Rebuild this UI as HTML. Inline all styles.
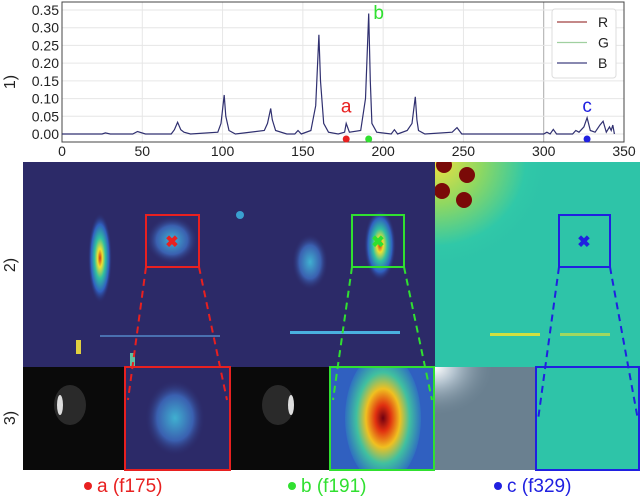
<!DOCTYPE html>
<html><head><meta charset="utf-8"><style>
body{margin:0;background:#fff;width:640px;height:500px;overflow:hidden;font-family:"Liberation Sans",sans-serif}
svg{display:block}
</style></head><body>
<svg width="640" height="500" viewBox="0 0 640 500">
<defs>
<radialGradient id="hotA" cx="0.5" cy="0.5" r="0.5"><stop offset="0" stop-color="#d03010"/><stop offset="0.2" stop-color="#f0e030"/><stop offset="0.45" stop-color="#30c0a0"/><stop offset="0.75" stop-color="#3060c0"/><stop offset="1" stop-color="#2a2a6a" stop-opacity="0"/></radialGradient>
<radialGradient id="blueSpot" cx="0.5" cy="0.5" r="0.5"><stop offset="0" stop-color="#40b0d0"/><stop offset="0.6" stop-color="#3a60b0"/><stop offset="1" stop-color="#2c2a6a" stop-opacity="0"/></radialGradient>
<radialGradient id="tealGlow" cx="0" cy="0" r="1"><stop offset="0" stop-color="#f0e040"/><stop offset="0.35" stop-color="#90d860"/><stop offset="0.7" stop-color="#30c8a8"/><stop offset="1" stop-color="#2ec0a8" stop-opacity="0"/></radialGradient>
<radialGradient id="grayGlow" cx="0" cy="0" r="1"><stop offset="0" stop-color="#ffffff"/><stop offset="0.35" stop-color="#b0c0cc"/><stop offset="1" stop-color="#6a8090" stop-opacity="0"/></radialGradient>
<radialGradient id="hotB" cx="0.5" cy="0.5" r="0.5"><stop offset="0" stop-color="#700010"/><stop offset="0.2" stop-color="#e03010"/><stop offset="0.45" stop-color="#f0c020"/><stop offset="0.7" stop-color="#40c0a0"/><stop offset="1" stop-color="#3070c0"/></radialGradient>
<clipPath id="clipB"><rect x="330" y="367" width="105" height="103"/></clipPath>
<clipPath id="clipA"><rect x="125" y="367" width="105" height="103"/></clipPath>
<clipPath id="clipC"><rect x="435" y="162" width="205" height="205"/></clipPath>
</defs>

<g id="chart"></g>

<g>
<rect x="23" y="162" width="412" height="205" fill="#2c2a68"/>
<ellipse cx="100" cy="258" rx="12" ry="45" fill="url(#hotA)"/>
<ellipse cx="172" cy="240" rx="26" ry="24" fill="url(#blueSpot)"/>
<circle cx="240" cy="215" r="4" fill="#3aa0d0"/>
<ellipse cx="310" cy="262" rx="18" ry="28" fill="url(#blueSpot)"/>
<ellipse cx="380" cy="245" rx="16" ry="36" fill="url(#hotA)"/>
<rect x="290" y="331" width="110" height="3" fill="#4ab0e0"/>
<rect x="100" y="335" width="120" height="2" fill="#4a70b0"/>
<rect x="76" y="340" width="5" height="14" fill="#e0d040"/>
<rect x="130" y="353" width="5" height="14" fill="#60c0a0"/>
<rect x="435" y="162" width="205" height="205" fill="#2ec4a8"/>
<g clip-path="url(#clipC)">
<rect x="435" y="162" width="130" height="120" fill="url(#tealGlow)"/>
<circle cx="444" cy="165" r="8" fill="#7a0a08"/><circle cx="467" cy="175" r="8" fill="#7a0a08"/><circle cx="442" cy="191" r="8" fill="#7a0a08"/><circle cx="464" cy="200" r="8" fill="#7a0a08"/>
</g>
<rect x="490" y="333" width="50" height="3" fill="#d0e040"/><rect x="560" y="333" width="50" height="3" fill="#a0d860"/>
<rect x="146" y="215" width="53" height="52" fill="none" stroke="#e82020" stroke-width="2"/>
<text x="172" y="247" font-size="16" font-weight="bold" fill="#e82020" text-anchor="middle">✖</text>
<rect x="352" y="215" width="52" height="52" fill="none" stroke="#30e030" stroke-width="2"/>
<text x="378" y="247" font-size="16" font-weight="bold" fill="#30e030" text-anchor="middle">✖</text>
<rect x="559" y="215" width="51" height="52" fill="none" stroke="#2020e0" stroke-width="2"/>
<text x="584" y="247" font-size="16" font-weight="bold" fill="#2020e0" text-anchor="middle">✖</text>
<text transform="translate(15,265) rotate(-90)" font-size="16" text-anchor="middle" fill="#222">2)</text>
</g>

<g>
<rect x="23" y="367" width="102" height="103" fill="#0a0a0a"/>
<ellipse cx="70" cy="405" rx="16" ry="20" fill="#2a2a2a"/><ellipse cx="60" cy="405" rx="3" ry="10" fill="#ddd"/>
<rect x="125" y="367" width="105" height="103" fill="#2c2a68"/>
<ellipse cx="175" cy="418" rx="30" ry="38" fill="url(#blueSpot)" clip-path="url(#clipA)"/>
<rect x="230" y="367" width="100" height="103" fill="#0a0a0a"/>
<ellipse cx="278" cy="405" rx="16" ry="20" fill="#2a2a2a"/><ellipse cx="291" cy="405" rx="3" ry="10" fill="#ddd"/>
<rect x="330" y="367" width="105" height="103" fill="#3060c0"/>
<ellipse cx="383" cy="418" rx="38" ry="65" fill="url(#hotB)" clip-path="url(#clipB)"/>
<rect x="435" y="367" width="100" height="103" fill="#6a8090"/>
<rect x="435" y="367" width="60" height="50" fill="url(#grayGlow)"/>
<rect x="535" y="367" width="105" height="103" fill="#2ec4a8"/>
<rect x="125" y="367" width="105" height="103" fill="none" stroke="#e82020" stroke-width="2"/>
<rect x="330" y="367" width="104" height="103" fill="none" stroke="#30e030" stroke-width="2"/>
<rect x="536" y="367" width="103" height="103" fill="none" stroke="#2020e0" stroke-width="2"/>
<text transform="translate(15,418) rotate(-90)" font-size="16" text-anchor="middle" fill="#222">3)</text>
</g>

<g stroke-width="2" stroke-dasharray="7,5" fill="none">
<path d="M146 267 L128 400 M199 267 L227 400" stroke="#e82020"/>
<path d="M352 267 L333 400 M404 267 L432 400" stroke="#30e030"/>
<path d="M559 267 L538 420 M610 267 L638 420" stroke="#2020e0"/>
</g>

<g font-size="19">
<circle cx="88" cy="486" r="4" fill="#e82020"/><text x="97" y="492" fill="#e82020">a (f175)</text>
<circle cx="292" cy="486" r="4" fill="#30e030"/><text x="301" y="492" fill="#30e030">b (f191)</text>
<circle cx="498" cy="486" r="4" fill="#2020e0"/><text x="507" y="492" fill="#2020e0">c (f329)</text>
</g>
</svg>
<script>
const frames=[0,25,27,30,44,47,52,68,70,72,74,76,80,97,99,101,102,104,108,126,128,130,131,133,140,145,147,149,155,158,160,161,163,166,172,176,177,179,186,189,191,192,193,196,205,207,209,215,218,220,221,222,226,243,246,249,300,302,304,306,308,318,320,322,325,327,329,332,335,337,339,341,342,343,344];
const values=[0,0,0.003,0,0,0.007,0,0,0.012,0.033,0.012,0.005,0,0.005,0.03,0.11,0.05,0.01,0,0.01,0.03,0.072,0.04,0.01,0,0,0.01,0,0.01,0.08,0.28,0.15,0.03,0.005,0,0.005,0.03,0.005,0.01,0.1,0.34,0.15,0.03,0.005,0,0.012,0,0.01,0.03,0.105,0.04,0.01,0,0.005,0.018,0,0,0.005,0,0.013,0,0,0.01,0.005,0.02,0.046,0.01,0.005,0.025,0.036,0.005,0.02,0.01,0.025,0];
const xTicks=[0,50,100,150,200,250,300,350];
const yTicks=[0,0.05,0.1,0.15,0.2,0.25,0.3,0.35];
const markFrames=[177,191,327];
const markLabels=['a','b','c'];
const markColors=['#e82020','#30e030','#2020e0'];
const markHeights=[0.047,0.31,0.048];
const seriesNames=['R','G','B'];
const seriesColors=['#a04040','#a0d0a0','#404080'];

const NS='http://www.w3.org/2000/svg';
const g=document.getElementById('chart');
const X0=62,X1=624,Y0=134,Y1=10;
const sx=v=>X0+(v-0)/(350-0)*(X1-X0);
const sy=v=>Y0+(v-0)/(0.35-0)*(Y1-Y0);
function mk(t,a){const e=document.createElementNS(NS,t);for(const k in a)e.setAttribute(k,a[k]);g.appendChild(e);return e;}
xTicks.forEach(t=>{
 const l=mk('line',{x1:sx(t),x2:sx(t),y1:2,y2:142,stroke:t==300?'#aaa':'#e6e6e6'});
 
 
 const tx=mk('text',{x:sx(t),y:156,'font-size':14,'text-anchor':'middle',fill:'#222'});tx.textContent=t;
 
 
});
yTicks.forEach(t=>{
 const l=mk('line',{x1:X0,x2:X1,y1:sy(t),y2:sy(t),stroke:'#e6e6e6'});
 
 
 const tx=mk('text',{x:X0-3,y:sy(t)+5,'font-size':14,'text-anchor':'end',fill:'#222'});tx.textContent=t.toFixed(2);
 
 
});
const frame=mk('rect',{x:X0,y:2,width:X1-X0,height:140,fill:'none',stroke:'#444','stroke-width':1});


const yl=mk('text',{transform:'translate(15,82) rotate(-90)','font-size':16,'text-anchor':'middle',fill:'#222'});yl.textContent='1)';


const d=frames.map((f,i)=>(i?'L':'M')+sx(f).toFixed(1)+' '+sy(values[i]).toFixed(1)).join(' ');
const line=mk('path',{d:d,fill:'none',stroke:'#303070','stroke-width':1.2});


markFrames.forEach((f,i)=>{
 const c=mk('circle',{cx:sx(f),cy:139,r:3.5,fill:markColors[i]});
 
 
 const t=mk('text',{x:sx(f)+(i==1?10:0),y:sy(markHeights[i])-5,'font-size':19,'text-anchor':'middle',fill:markColors[i]});t.textContent=markLabels[i];
 
 
});
const lg=mk('rect',{x:552,y:9,width:64,height:69,fill:'#fff',stroke:'#ddd',rx:3});


seriesNames.forEach((n,i)=>{
 const y=22+i*20.5;
 const l=mk('line',{x1:557,x2:587,y1:y,y2:y,stroke:seriesColors[i],'stroke-width':1.2});
 
 
 const t=mk('text',{x:598,y:y+5,'font-size':14,fill:'#222'});t.textContent=n;
 
 
});
</script>
</body></html>
